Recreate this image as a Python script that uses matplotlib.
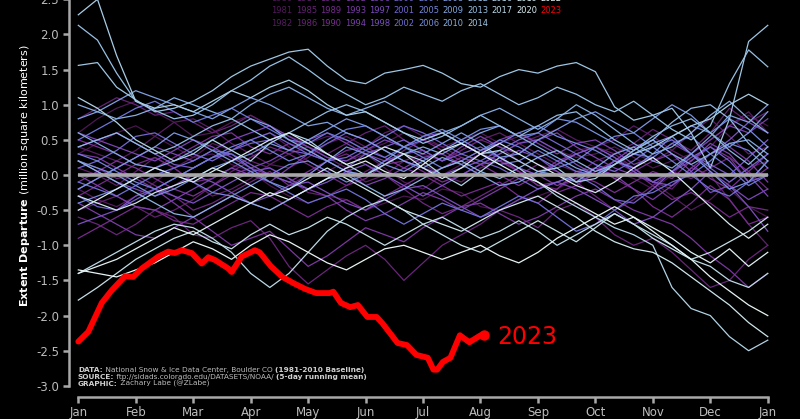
import numpy as np
import matplotlib.pyplot as plt
from matplotlib.colors import LinearSegmentedColormap

plt.rcParams['axes.unicode_minus'] = False

# ~10-day sampling of the daily (5-day mean) departures, day-of-year
days = np.linspace(0, 365, 37)

departures = {
    1979: [0.3, 0.45, 0.6, 0.7, 0.55, 0.4, 0.25, 0.3, 0.15, 0.05, -0.15, -0.3, -0.4, -0.3, -0.35, -0.5, -0.4, -0.3, -0.35, -0.2, -0.25, -0.45, -0.5, -0.35, -0.3, -0.2, -0.05, 0.1, 0.05, -0.05, -0.2, 0.0, 0.3, 0.5, 0.7, 0.85, 0.7],
    1980: [0.6, 0.8, 0.95, 1.05, 0.9, 0.75, 0.55, 0.6, 0.75, 0.85, 0.7, 0.55, 0.45, 0.55, 0.5, 0.35, 0.45, 0.6, 0.5, 0.4, 0.5, 0.6, 0.45, 0.55, 0.5, 0.35, 0.25, 0.3, 0.4, 0.25, 0.1, 0.2, 0.3, 0.05, -0.2, -0.45, -0.6],
    1981: [-0.2, -0.35, -0.45, -0.3, -0.1, 0.1, 0.25, 0.45, 0.35, 0.5, 0.6, 0.4, 0.2, 0.05, 0.2, 0.3, 0.1, -0.1, -0.2, 0.0, 0.15, 0.3, 0.2, 0.1, 0.0, 0.15, 0.35, 0.4, 0.25, 0.1, -0.1, -0.3, -0.5, -0.35, -0.1, 0.1, 0.2],
    1982: [0.4, 0.3, 0.2, 0.35, 0.55, 0.75, 0.8, 0.65, 0.45, 0.3, 0.15, 0.1, 0.25, 0.45, 0.55, 0.4, 0.6, 0.7, 0.55, 0.4, 0.25, 0.15, 0.3, 0.45, 0.55, 0.65, 0.5, 0.4, 0.5, 0.7, 0.55, 0.35, 0.2, 0.4, 0.7, 0.9, 0.6],
    1983: [0.1, 0.0, -0.15, 0.05, 0.25, 0.1, -0.1, -0.3, -0.2, -0.05, 0.15, 0.3, 0.4, 0.25, 0.1, -0.1, 0.0, 0.2, 0.3, 0.2, 0.35, 0.5, 0.6, 0.45, 0.3, 0.15, 0.05, 0.0, 0.2, 0.3, 0.2, 0.35, 0.6, 0.8, 0.55, 0.3, 0.4],
    1984: [-0.5, -0.4, -0.3, -0.45, -0.6, -0.5, -0.35, -0.15, 0.05, 0.2, 0.1, -0.05, -0.25, -0.3, -0.15, 0.05, 0.2, 0.3, 0.15, 0.0, -0.1, 0.1, 0.2, 0.05, -0.15, -0.2, 0.0, 0.2, 0.3, 0.1, -0.1, -0.2, 0.1, 0.0, -0.35, -0.7, -1.0],
    1985: [0.8, 0.95, 1.1, 1.0, 0.85, 0.9, 0.75, 0.6, 0.7, 0.85, 0.7, 0.5, 0.4, 0.3, 0.45, 0.6, 0.7, 0.5, 0.35, 0.2, 0.35, 0.5, 0.4, 0.2, 0.05, 0.15, 0.3, 0.4, 0.3, 0.45, 0.65, 0.5, 0.35, 0.6, 0.95, 0.75, 0.9],
    1986: [-0.6, -0.7, -0.85, -0.7, -0.5, -0.6, -0.85, -0.9, -0.75, -0.65, -0.9, -1.3, -1.55, -1.35, -1.15, -1.0, -1.2, -1.5, -1.25, -1.0, -0.85, -0.7, -0.5, -0.6, -0.75, -0.5, -0.4, -0.6, -0.85, -1.0, -0.9, -1.1, -1.35, -1.6, -1.5, -1.2, -1.0],
    1987: [0.2, 0.1, -0.05, 0.0, -0.15, -0.3, -0.5, -0.4, -0.25, -0.1, 0.05, -0.15, 0.0, 0.2, 0.3, 0.15, 0.0, -0.2, -0.4, -0.55, -0.45, -0.3, -0.15, 0.0, 0.15, 0.05, -0.1, -0.3, -0.5, -0.35, -0.15, 0.05, -0.05, 0.1, 0.25, 0.05, -0.2],
    1988: [-0.3, -0.15, 0.0, 0.15, 0.25, 0.1, -0.1, -0.05, 0.1, 0.25, 0.4, 0.3, 0.15, 0.0, -0.15, -0.05, 0.15, 0.35, 0.5, 0.35, 0.2, 0.35, 0.25, 0.05, -0.1, -0.25, -0.15, 0.05, 0.2, 0.05, -0.15, -0.35, -0.25, -0.4, -0.6, -0.45, -0.5],
    1989: [-0.9, -0.75, -0.6, -0.45, -0.5, -0.65, -0.7, -0.55, -0.4, -0.25, -0.3, -0.45, -0.6, -0.45, -0.35, -0.5, -0.3, -0.15, 0.0, -0.15, -0.3, -0.2, -0.1, -0.3, -0.4, -0.2, 0.05, 0.1, -0.05, -0.2, -0.45, -0.6, -0.4, -0.15, -0.35, -0.7, -0.6],
    1990: [0.5, 0.4, 0.3, 0.15, 0.1, 0.25, 0.4, 0.55, 0.6, 0.4, 0.3, 0.45, 0.35, 0.2, 0.05, 0.0, 0.15, 0.2, 0.05, -0.1, 0.0, 0.15, 0.2, 0.05, -0.15, -0.1, 0.0, -0.1, -0.25, -0.1, 0.05, -0.05, 0.2, 0.4, 0.25, -0.1, 0.1],
    1991: [-0.1, 0.05, 0.2, 0.1, -0.05, -0.2, -0.3, -0.15, 0.0, 0.1, 0.0, -0.1, 0.05, 0.2, 0.35, 0.4, 0.25, 0.1, 0.0, 0.1, 0.25, 0.15, 0.0, -0.15, 0.0, 0.2, 0.3, 0.15, -0.05, 0.05, 0.2, 0.3, 0.15, -0.05, -0.2, 0.05, 0.3],
    1992: [0.3, 0.25, 0.1, -0.05, -0.2, -0.4, -0.6, -0.8, -1.0, -0.9, -0.8, -1.05, -1.3, -1.15, -0.95, -0.75, -0.85, -0.95, -0.75, -0.6, -0.45, -0.4, -0.55, -0.7, -0.6, -0.45, -0.3, -0.2, -0.35, -0.5, -0.6, -0.7, -0.9, -1.15, -1.35, -1.6, -1.4],
    1993: [-0.4, -0.55, -0.7, -0.85, -0.9, -0.75, -0.6, -0.45, -0.3, -0.4, -0.5, -0.35, -0.2, -0.3, -0.5, -0.65, -0.55, -0.4, -0.25, -0.35, -0.5, -0.35, -0.2, -0.05, 0.0, -0.15, -0.05, 0.1, 0.0, -0.2, -0.35, -0.15, 0.1, 0.3, 0.4, 0.2, -0.1],
    1994: [0.0, -0.15, -0.3, -0.45, -0.5, -0.35, -0.2, -0.05, 0.1, 0.0, -0.1, 0.1, 0.3, 0.2, 0.05, -0.15, -0.05, 0.1, 0.25, 0.3, 0.15, 0.3, 0.5, 0.6, 0.45, 0.3, 0.45, 0.5, 0.35, 0.15, 0.25, 0.45, 0.3, 0.5, 0.7, 0.6, 0.8],
    1995: [0.6, 0.5, 0.4, 0.3, 0.2, 0.35, 0.5, 0.4, 0.25, 0.1, 0.2, 0.35, 0.5, 0.6, 0.45, 0.3, 0.2, 0.3, 0.35, 0.2, 0.4, 0.55, 0.4, 0.3, 0.5, 0.6, 0.4, 0.25, 0.1, 0.0, -0.1, 0.05, 0.2, 0.45, 0.3, 0.0, -0.3],
    1996: [-0.2, -0.05, 0.1, 0.25, 0.4, 0.3, 0.2, 0.35, 0.5, 0.6, 0.7, 0.55, 0.4, 0.25, 0.2, 0.35, 0.5, 0.4, 0.55, 0.6, 0.45, 0.3, 0.2, 0.35, 0.25, 0.05, -0.1, 0.0, 0.2, 0.4, 0.5, 0.3, 0.05, -0.25, -0.15, -0.35, -0.2],
    1997: [0.2, 0.05, -0.1, -0.2, -0.3, -0.15, 0.0, -0.1, -0.25, -0.4, -0.3, -0.15, -0.1, -0.25, -0.4, -0.5, -0.35, -0.2, -0.15, -0.3, -0.45, -0.6, -0.5, -0.35, -0.2, -0.1, -0.2, -0.35, -0.5, -0.7, -0.6, -0.4, -0.2, 0.05, -0.15, -0.45, -0.8],
    1998: [-0.7, -0.6, -0.5, -0.3, -0.2, -0.3, -0.4, -0.25, -0.1, 0.05, 0.1, -0.05, -0.2, -0.1, 0.05, 0.15, 0.0, -0.15, -0.3, -0.15, 0.0, 0.15, 0.3, 0.45, 0.5, 0.35, 0.15, 0.0, 0.2, 0.1, -0.1, -0.15, 0.05, 0.3, 0.5, 0.75, 0.6],
    1999: [0.4, 0.5, 0.6, 0.45, 0.3, 0.15, 0.1, 0.25, 0.3, 0.15, 0.0, -0.1, -0.2, -0.05, 0.1, 0.3, 0.4, 0.5, 0.35, 0.2, 0.3, 0.4, 0.25, 0.1, 0.0, 0.15, 0.3, 0.4, 0.25, 0.05, -0.1, 0.05, 0.3, 0.15, 0.0, 0.25, 0.5],
    2000: [-0.3, -0.45, -0.5, -0.35, -0.2, -0.05, 0.1, 0.25, 0.35, 0.45, 0.5, 0.35, 0.3, 0.45, 0.6, 0.5, 0.35, 0.2, 0.1, 0.0, 0.1, 0.2, 0.1, -0.05, -0.2, -0.1, 0.0, -0.15, -0.35, -0.4, -0.2, 0.05, 0.25, 0.4, 0.2, -0.1, 0.0],
    2001: [0.1, 0.2, 0.35, 0.55, 0.6, 0.45, 0.3, 0.2, 0.35, 0.5, 0.6, 0.45, 0.3, 0.2, 0.25, 0.4, 0.55, 0.7, 0.6, 0.45, 0.3, 0.2, 0.35, 0.5, 0.6, 0.45, 0.3, 0.15, 0.05, 0.2, 0.4, 0.5, 0.3, 0.1, -0.1, 0.1, 0.3],
    2002: [-0.1, -0.2, -0.3, -0.15, 0.0, 0.1, 0.2, 0.35, 0.3, 0.1, -0.1, -0.25, -0.4, -0.3, -0.2, -0.35, -0.55, -0.7, -0.55, -0.4, -0.5, -0.6, -0.45, -0.3, -0.4, -0.6, -0.8, -0.7, -0.5, -0.3, -0.25, -0.1, 0.0, -0.2, -0.3, -0.1, 0.2],
    2003: [0.5, 0.65, 0.8, 0.95, 1.05, 0.9, 0.75, 0.85, 0.95, 0.8, 0.65, 0.5, 0.45, 0.6, 0.5, 0.35, 0.25, 0.4, 0.5, 0.6, 0.45, 0.3, 0.15, 0.2, 0.35, 0.2, 0.05, 0.0, 0.15, 0.3, 0.25, 0.45, 0.55, 0.3, 0.1, -0.15, 0.0],
    2004: [0.3, 0.2, 0.05, -0.1, -0.2, -0.05, 0.1, 0.25, 0.4, 0.5, 0.35, 0.2, 0.3, 0.5, 0.65, 0.7, 0.55, 0.4, 0.25, 0.1, 0.2, 0.35, 0.5, 0.4, 0.25, 0.1, 0.2, 0.4, 0.55, 0.6, 0.4, 0.2, 0.0, 0.2, 0.45, 0.35, 0.1],
    2005: [-0.4, -0.3, -0.2, -0.05, 0.1, 0.0, -0.1, -0.25, -0.3, -0.15, 0.0, 0.15, 0.2, 0.05, -0.1, 0.0, 0.2, 0.4, 0.55, 0.65, 0.5, 0.35, 0.45, 0.6, 0.7, 0.55, 0.45, 0.35, 0.2, 0.1, 0.3, 0.55, 0.7, 0.6, 0.8, 0.65, 0.4],
    2006: [0.2, 0.1, 0.0, -0.15, -0.3, -0.2, -0.05, 0.1, 0.2, 0.05, -0.1, -0.2, 0.0, 0.2, 0.4, 0.3, 0.15, 0.05, 0.2, 0.35, 0.5, 0.65, 0.7, 0.55, 0.6, 0.8, 0.75, 0.6, 0.45, 0.3, 0.45, 0.55, 0.3, 0.05, -0.2, -0.1, 0.2],
    2007: [-0.2, -0.05, 0.1, 0.25, 0.4, 0.6, 0.5, 0.35, 0.2, 0.3, 0.45, 0.35, 0.5, 0.65, 0.8, 0.7, 0.55, 0.4, 0.3, 0.45, 0.6, 0.45, 0.25, 0.3, 0.5, 0.65, 0.8, 0.9, 0.75, 0.6, 0.8, 1.0, 0.85, 0.6, 0.4, 0.6, 0.9],
    2008: [0.8, 0.9, 1.05, 1.2, 1.1, 1.0, 0.9, 0.8, 0.95, 1.1, 1.0, 0.85, 0.7, 0.75, 0.6, 0.5, 0.35, 0.2, 0.1, 0.25, 0.15, 0.0, -0.15, -0.1, 0.05, 0.0, -0.1, 0.1, 0.3, 0.4, 0.2, 0.1, 0.3, 0.55, 0.85, 0.75, 1.0],
    2009: [0.6, 0.45, 0.3, 0.15, 0.1, 0.2, 0.35, 0.5, 0.65, 0.8, 0.7, 0.5, 0.35, 0.2, 0.05, 0.0, 0.15, 0.3, 0.4, 0.3, 0.45, 0.6, 0.7, 0.55, 0.4, 0.25, 0.1, 0.0, 0.15, 0.35, 0.5, 0.3, 0.15, 0.3, 0.45, 0.5, 0.3],
    2010: [1.0, 0.9, 0.8, 0.85, 0.95, 1.1, 1.0, 0.9, 0.8, 1.0, 1.15, 1.25, 1.1, 0.95, 0.85, 0.95, 1.05, 0.9, 0.75, 0.6, 0.7, 0.85, 0.95, 0.8, 0.65, 0.8, 1.0, 0.85, 0.65, 0.45, 0.3, 0.4, 0.6, 0.85, 1.05, 0.8, 0.6],
    2011: [0.2, 0.05, -0.1, -0.25, -0.4, -0.55, -0.6, -0.45, -0.3, -0.4, -0.5, -0.35, -0.2, -0.05, 0.0, -0.15, -0.3, -0.2, -0.05, 0.1, 0.2, 0.05, -0.05, 0.1, 0.25, 0.35, 0.2, 0.05, 0.15, 0.35, 0.55, 0.7, 0.8, 0.6, 0.35, 0.15, 0.4],
    2012: [0.4, 0.5, 0.6, 0.45, 0.3, 0.4, 0.55, 0.7, 0.8, 0.65, 0.5, 0.6, 0.75, 0.9, 1.0, 0.9, 0.75, 0.6, 0.45, 0.55, 0.7, 0.85, 0.7, 0.55, 0.7, 0.85, 0.9, 0.7, 0.5, 0.35, 0.5, 0.75, 0.95, 1.0, 0.8, 0.45, 0.2],
    2013: [2.13, 1.92, 1.45, 1.05, 0.92, 0.8, 0.85, 1.0, 1.2, 1.35, 1.55, 1.68, 1.5, 1.3, 1.15, 1.0, 1.1, 1.25, 1.15, 1.05, 1.2, 1.3, 1.15, 1.0, 1.1, 1.25, 1.15, 1.0, 0.9, 1.05, 0.85, 0.65, 0.5, 0.7, 1.3, 1.78, 1.54],
    2014: [1.56, 1.6, 1.25, 1.07, 0.9, 0.95, 1.05, 1.2, 1.4, 1.55, 1.65, 1.75, 1.79, 1.55, 1.35, 1.3, 1.45, 1.5, 1.56, 1.45, 1.3, 1.25, 1.4, 1.5, 1.45, 1.55, 1.6, 1.47, 0.97, 0.78, 0.85, 0.95, 0.6, 0.1, 0.8, 1.9, 2.13],
    2015: [2.28, 2.5, 1.7, 1.05, 0.95, 1.0, 0.9, 1.05, 1.2, 1.1, 1.25, 1.35, 1.2, 1.0, 0.85, 0.9, 0.75, 0.6, 0.5, 0.6, 0.45, 0.3, 0.35, 0.2, 0.05, 0.1, -0.1, -0.05, 0.15, 0.3, 0.4, 0.55, 0.7, 0.8, 1.0, 1.15, 1.0],
    2016: [1.1, 0.95, 0.75, 0.5, 0.35, 0.2, 0.3, 0.5, 0.35, 0.2, 0.45, 0.6, 0.5, 0.3, 0.15, 0.0, 0.15, 0.3, 0.2, 0.0, -0.15, 0.05, 0.25, 0.1, -0.1, -0.3, -0.45, -0.6, -0.75, -0.85, -1.0, -1.6, -1.9, -2.0, -2.3, -2.5, -2.35],
    2017: [-1.4, -1.25, -1.1, -0.95, -0.8, -0.7, -0.75, -0.9, -1.1, -1.4, -1.6, -1.4, -1.1, -0.8, -0.6, -0.45, -0.35, -0.5, -0.7, -0.6, -0.75, -0.9, -0.8, -0.65, -0.8, -1.0, -0.85, -0.7, -0.55, -0.7, -0.85, -1.0, -1.2, -1.3, -1.5, -1.6, -1.4],
    2018: [-1.78, -1.6, -1.4, -1.2, -1.05, -0.9, -0.8, -0.95, -1.05, -0.85, -0.7, -0.85, -0.75, -0.6, -0.7, -0.85, -1.0, -0.85, -0.7, -0.85, -1.0, -1.1, -0.95, -0.8, -0.65, -0.8, -0.95, -0.75, -0.55, -0.7, -0.9, -1.05, -1.2, -1.1, -0.95, -0.8, -0.6],
    2019: [-0.3, -0.4, -0.5, -0.4, -0.25, -0.15, -0.05, 0.1, 0.0, -0.15, -0.3, -0.2, -0.05, 0.1, -0.05, -0.2, -0.35, -0.5, -0.6, -0.7, -0.8, -0.65, -0.5, -0.4, -0.3, -0.45, -0.6, -0.8, -0.95, -1.05, -1.1, -1.25, -1.45, -1.65, -1.85, -2.1, -2.3],
    2020: [-0.5, -0.35, -0.2, -0.05, 0.1, 0.0, -0.1, 0.05, 0.2, 0.35, 0.5, 0.6, 0.45, 0.3, 0.15, 0.25, 0.4, 0.3, 0.1, -0.05, 0.1, 0.3, 0.45, 0.3, 0.15, 0.0, -0.15, -0.25, -0.1, 0.1, 0.25, 0.05, -0.2, -0.45, -0.7, -0.9, -0.7],
    2021: [-1.4, -1.3, -1.2, -1.05, -0.9, -0.75, -0.85, -0.7, -0.55, -0.4, -0.25, -0.35, -0.2, -0.05, 0.1, 0.2, 0.05, -0.05, 0.15, 0.35, 0.45, 0.3, 0.15, 0.0, -0.1, -0.25, -0.4, -0.55, -0.7, -0.6, -0.75, -0.9, -1.1, -1.25, -1.05, -1.3, -1.1],
    2022: [-1.35, -1.4, -1.45, -1.35, -1.25, -1.1, -0.95, -1.05, -1.2, -1.0, -0.85, -0.95, -1.1, -1.25, -1.35, -1.2, -1.05, -1.0, -1.1, -1.2, -1.1, -1.0, -1.15, -1.25, -1.1, -0.9, -0.75, -0.6, -0.45, -0.6, -0.8, -1.0, -1.2, -1.45, -1.65, -1.85, -2.0],
}

# 2023 so far
days_2023 = [0, 5.3, 12.4, 17.7, 24.7, 29, 33.6, 42.4, 47.6, 51, 54.7, 60, 65.3, 68.8, 72.4, 79.4, 81.2,
             86.5, 93.5, 96, 102, 108, 114, 120, 126, 133, 135, 139, 144, 148, 153, 158, 161, 169,
             174, 179, 185, 188, 190, 193, 197, 202, 207, 213, 215]
vals_2023 = [-2.37, -2.23, -1.82, -1.64, -1.44, -1.45, -1.33, -1.16, -1.09, -1.11, -1.07, -1.11, -1.26, -1.17,
             -1.21, -1.33, -1.38, -1.16, -1.07, -1.10, -1.30, -1.45, -1.54, -1.62, -1.68, -1.68, -1.66,
             -1.82, -1.88, -1.85, -2.02, -2.02, -2.11, -2.39, -2.42, -2.56, -2.60, -2.77, -2.77, -2.66,
             -2.60, -2.28, -2.38, -2.28, -2.27]

month_ticks = np.linspace(0, 365, 13)
month_labels = ['Jan', 'Feb', 'Mar', 'Apr', 'May', 'Jun', 'Jul', 'Aug', 'Sep', 'Oct', 'Nov', 'Dec', 'Jan']
y_ticks = np.arange(-3.0, 2.51, 0.5)

cmap = LinearSegmentedColormap.from_list('years', [
    (0.0, '#4a1650'), (0.25, '#7a2e92'), (0.45, '#7b52c4'), (0.55, '#6c74d8'),
    (0.7, '#82a8e2'), (0.8, '#98c2e4'), (0.9, '#c0dde6'), (1.0, '#e8f4f4')])

grey = '#a8a8a8'
textgrey = '#bcbcbc'

fig = plt.figure(figsize=(8, 4.19), dpi=100, facecolor='black')
ax = fig.add_axes([0.0868, 0.0523, 0.884, 1.060])
ax.set_facecolor('black')

years = sorted(departures)
for yr in years:
    c = cmap((yr - years[0]) / (years[-1] - years[0]))
    ax.plot(days, departures[yr], color=c, lw=0.9, label=str(yr))

ax.hlines(0, month_ticks[0], month_ticks[-1], color=grey, lw=2.6, zorder=5)

ax.plot(days_2023, vals_2023, color='#ff0000', lw=4.2, solid_capstyle='round', solid_joinstyle='round',
        zorder=6, label='2023')
ax.plot(days_2023[-1], vals_2023[-1], 'o', color='#ff0000', ms=6.5, zorder=6)
ax.annotate('2023', xy=(days_2023[-1], vals_2023[-1]), xytext=(9, -2), textcoords='offset points',
            color='#ff0000', fontsize=17, va='center', ha='left')

ax.set_xlim(-4.7, 369.7)
ax.set_ylim(-3.16, 3.16)
for s in ['top', 'right']:
    ax.spines[s].set_visible(False)
for s in ['left', 'bottom']:
    ax.spines[s].set_color(grey)
    ax.spines[s].set_linewidth(1.8)
ax.spines['left'].set_bounds(-3.0, 3.0)
ax.spines['bottom'].set_bounds(0, 365)

ax.set_xticks(month_ticks)
ax.set_xticklabels(month_labels)
ax.set_yticks(y_ticks)
ax.set_yticklabels(['%.1f' % v for v in y_ticks])
ax.tick_params(colors=grey, length=4, width=1.8, labelcolor=textgrey, labelsize=8.5)
ax.tick_params(axis='x', pad=2.5)

fig.text(0.031, 0.582, r'$\bf{Extent\ Departure}$ (million square kilometers)', rotation=90,
         ha='center', va='center', color='white', fontsize=8)

# source block, bold prefixes chained onto regular text
src_lines = [
    ('DATA:', ' National Snow & Ice Data Center, Boulder CO ', '(1981-2010 Baseline)'),
    ('SOURCE:', ' ftp://sidads.colorado.edu/DATASETS/NOAA/ ', '(5-day running mean)'),
    ('GRAPHIC:', ' Zachary Labe (@ZLabe)', ''),
]
for i, (b1, r, b2) in enumerate(src_lines):
    y = 1 - (372.5 + 7 * i) / 419
    t1 = fig.text(78 / 800, y, b1, fontsize=5.3, fontweight='bold', color='#d0d0d0', va='bottom')
    t2 = ax.annotate(r, xy=(1, 0), xycoords=t1, fontsize=5.3, color=textgrey, va='bottom', ha='left')
    if b2:
        ax.annotate(b2, xy=(1, 0), xycoords=t2, fontsize=5.3, fontweight='bold', color='#d0d0d0',
                    va='bottom', ha='left')

leg = ax.legend(ncol=12, loc='center', bbox_to_anchor=(0.5206, 1 - 4.5 / 419), bbox_transform=fig.transFigure,
                frameon=False, handlelength=0, handletextpad=0, columnspacing=0.4, labelspacing=0.47,
                borderpad=0, fontsize=6, labelcolor='linecolor')

fig.savefig('out.png', dpi=100, facecolor='black')
